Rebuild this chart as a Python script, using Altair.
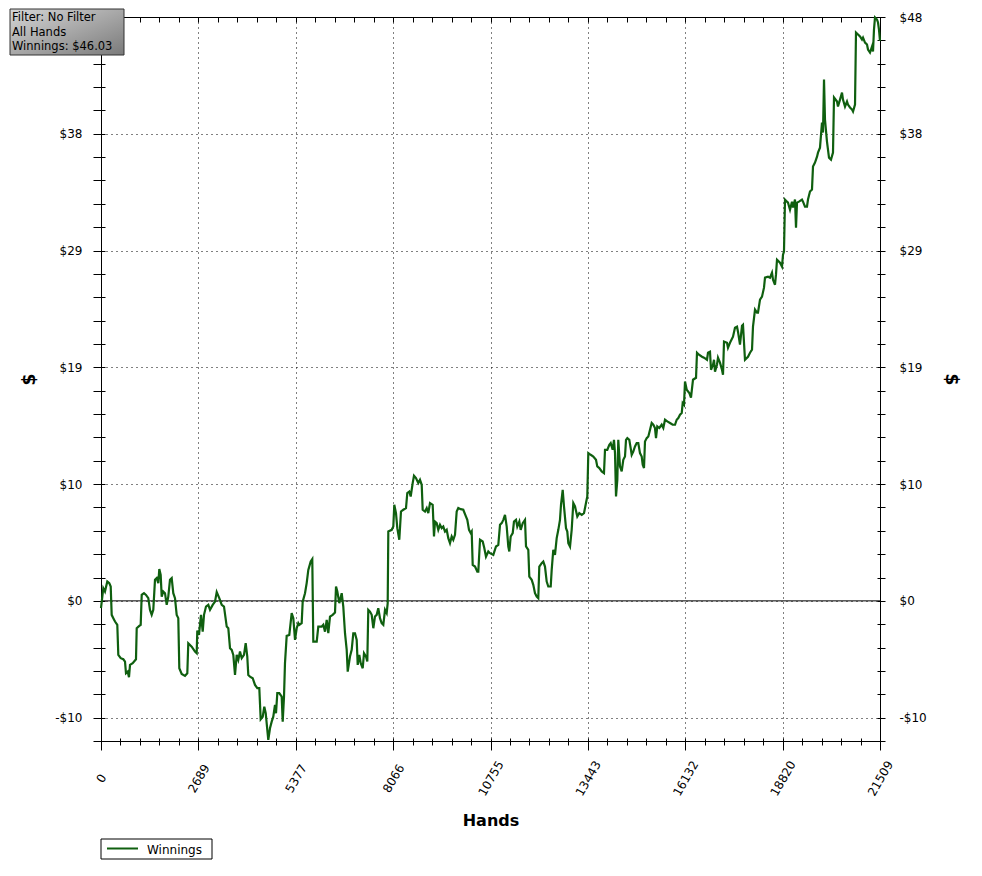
import altair as alt
import pandas as pd

# ---------------- data ----------------
HANDS = [
    0, 64, 110, 174, 229, 268, 295, 340, 387, 450,
    478, 544, 616, 663, 690, 737, 773, 801, 875, 966,
    986, 1057, 1096, 1124, 1187, 1242, 1306, 1353, 1400, 1444,
    1491, 1538, 1582, 1610, 1648, 1676, 1720, 1767, 1814, 1858,
    1905, 1952, 1996, 2043, 2090, 2134, 2162, 2228, 2319, 2383,
    2410, 2504, 2595, 2642, 2659, 2706, 2733, 2761, 2808, 2844,
    2899, 2963, 3010, 3084, 3148, 3195, 3266, 3333, 3396, 3471,
    3515, 3562, 3609, 3653, 3700, 3747, 3791, 3838, 3885, 3948,
    3995, 4039, 4067, 4114, 4189, 4252, 4316, 4371, 4409, 4465,
    4509, 4548, 4592, 4619, 4666, 4713, 4757, 4804, 4832, 4868,
    4923, 4989, 5017, 5053, 5080, 5127, 5199, 5265, 5310, 5357,
    5403, 5448, 5475, 5541, 5569, 5633, 5679, 5724, 5790, 5834,
    5862, 5956, 6000, 6094, 6138, 6185, 6232, 6276, 6323, 6397,
    6461, 6489, 6525, 6580, 6646, 6690, 6737, 6784, 6812, 6875,
    6922, 6966, 7013, 7060, 7088, 7132, 7171, 7226, 7262, 7317,
    7353, 7380, 7427, 7474, 7519, 7565, 7612, 7656, 7703, 7750,
    7795, 7842, 7888, 7916, 7933, 8027, 8071, 8098, 8145, 8181,
    8236, 8283, 8347, 8421, 8457, 8512, 8551, 8606, 8642, 8697,
    8761, 8808, 8855, 8882, 8946, 8993, 9037, 9084, 9158, 9194,
    9222, 9269, 9313, 9360, 9407, 9451, 9498, 9545, 9589, 9636,
    9683, 9727, 9774, 9821, 9865, 9932, 10003, 10078, 10114, 10161,
    10208, 10235, 10263, 10327, 10390, 10418, 10465, 10539, 10583, 10630,
    10694, 10741, 10832, 10906, 10970, 11017, 11064, 11108, 11155, 11202,
    11246, 11274, 11312, 11368, 11403, 11459, 11494, 11550, 11588, 11644,
    11707, 11735, 11798, 11826, 11892, 11936, 11983, 12030, 12074, 12102,
    12168, 12212, 12259, 12306, 12350, 12417, 12444, 12488, 12535, 12582,
    12627, 12673, 12701, 12748, 12784, 12839, 12875, 12903, 12950, 12996,
    13041, 13088, 13151, 13206, 13273, 13336, 13391, 13427, 13455, 13521,
    13593, 13667, 13703, 13759, 13825, 13888, 13916, 13979, 14035, 14073,
    14128, 14164, 14192, 14220, 14256, 14283, 14330, 14377, 14421, 14468,
    14496, 14532, 14587, 14625, 14653, 14697, 14744, 14791, 14835, 14882,
    14929, 14957, 14993, 15020, 15067, 15112, 15159, 15205, 15250, 15296,
    15324, 15360, 15415, 15481, 15526, 15573, 15636, 15711, 15785, 15849,
    15896, 15940, 15987, 16034, 16061, 16097, 16125, 16172, 16244, 16290,
    16346, 16429, 16456, 16511, 16594, 16649, 16732, 16760, 16815, 16843,
    16898, 16926, 16953, 17008, 17036, 17091, 17146, 17174, 17202, 17284,
    17312, 17367, 17450, 17505, 17561, 17588, 17643, 17699, 17726, 17781,
    17864, 17920, 17975, 18002, 18058, 18113, 18140, 18196, 18251, 18306,
    18334, 18417, 18472, 18527, 18555, 18610, 18637, 18665, 18748, 18803,
    18831, 18858, 18886, 18941, 18969, 19024, 19079, 19107, 19162, 19190,
    19217, 19272, 19355, 19383, 19438, 19493, 19521, 19576, 19631, 19659,
    19714, 19770, 19797, 19852, 19907, 19935, 19963, 19990, 20045, 20101,
    20156, 20211, 20239, 20322, 20349, 20405, 20460, 20487, 20543, 20598,
    20625, 20681, 20736, 20764, 20819, 20846, 20902, 20957, 21012, 21040,
    21095, 21150, 21178, 21233, 21288, 21316, 21343, 21371, 21426, 21454,
    21481, 21509,
]

WINNINGS = [
    -0.60, 1.04, 0.77, 1.59, 1.46, 1.18, -1.15, -1.42, -1.70, -1.97,
    -4.44, -4.71, -4.80, -4.99, -5.95, -5.82, -6.28, -5.26, -5.12, -4.80,
    -2.25, -2.06, -1.97, 0.49, 0.63, 0.49, 0.22, -0.74, -1.15, -0.74,
    1.73, 1.87, 1.46, 2.61, 2.14, 0.35, 0.77, 0.63, -0.33, 0.35,
    1.73, 1.87, 0.63, 0.22, -1.15, -1.42, -5.54, -6.01, -6.17, -5.95,
    -3.48, -3.76, -4.17, -4.30, -2.44, -2.80, -1.97, -1.15, -2.53, -1.15,
    -0.47, -0.33, -0.74, -0.33, -0.06, 0.72, 0.22, -0.33, -0.47, -2.11,
    -2.25, -3.89, -4.03, -4.44, -6.09, -4.44, -4.85, -4.17, -4.71, -4.44,
    -3.48, -4.58, -6.09, -6.23, -6.36, -6.91, -7.18, -7.18, -9.73, -9.52,
    -8.70, -9.24, -10.61, -11.43, -10.47, -9.93, -9.52, -8.56, -9.24, -7.59,
    -7.59, -7.87, -9.93, -7.87, -5.12, -2.88, -2.80, -1.01, -1.42, -3.21,
    -2.25, -1.83, -1.97, -1.83, -0.06, 0.63, 1.46, 2.55, 3.23, 3.43,
    -3.35, -3.35, -2.11, -2.11, -1.97, -2.53, -1.56, -2.66, -1.29, -1.15,
    -0.96, 1.18, 0.77, -0.19, 0.63, -0.47, -2.66, -4.03, -5.82, -4.58,
    -4.03, -2.66, -2.66, -3.21, -5.26, -4.44, -5.12, -5.54, -4.30, -4.58,
    -4.99, -0.74, -0.88, -1.15, -2.25, -1.29, -1.15, -0.60, -1.42, -1.83,
    -1.97, -0.74, -1.01, -0.19, 5.70, 5.84, 6.11, 7.90, 7.21, 5.98,
    5.02, 7.35, 7.49, 7.63, 8.86, 8.99, 8.58, 9.68, 10.28, 10.09,
    9.68, 9.95, 9.54, 7.49, 7.35, 7.63, 7.21, 8.04, 7.90, 5.29,
    6.52, 6.39, 5.84, 6.25, 5.98, 6.11, 5.70, 5.84, 5.16, 4.75,
    5.29, 5.02, 5.43, 7.35, 7.63, 7.54, 7.49, 6.93, 6.66, 5.84,
    5.57, 5.70, 2.96, 2.82, 2.41, 2.41, 5.02, 4.88, 4.34, 3.64,
    4.06, 3.92, 3.78, 4.47, 4.61, 6.25, 6.39, 6.66, 7.07, 6.11,
    4.47, 4.06, 5.29, 5.57, 6.52, 6.66, 6.11, 6.52, 5.84, 6.39,
    6.66, 4.47, 4.20, 2.00, 1.73, 1.32, 0.63, 0.35, 0.22, 2.82,
    3.10, 3.23, 2.82, 1.59, 1.18, 1.18, 2.55, 4.20, 3.78, 5.16,
    5.84, 6.66, 7.90, 9.13, 7.76, 5.98, 5.70, 4.75, 4.47, 5.84,
    8.04, 7.76, 6.93, 7.21, 7.07, 7.21, 8.04, 8.58, 12.15, 12.01,
    11.87, 11.60, 11.05, 10.92, 10.64, 10.50, 12.42, 12.42, 12.83, 12.97,
    12.42, 13.24, 12.15, 8.58, 9.95, 13.24, 11.05, 10.64, 11.60, 11.87,
    13.24, 13.38, 13.24, 12.56, 12.01, 12.28, 12.69, 12.97, 12.97, 12.15,
    11.87, 11.19, 10.92, 13.10, 13.38, 13.52, 14.07, 14.62, 14.48, 14.21,
    13.38, 14.34, 14.21, 14.48, 14.21, 14.89, 14.75, 14.62, 14.48, 14.48,
    14.89, 15.03, 15.30, 15.44, 16.26, 16.12, 18.04, 17.36, 17.09, 16.70,
    18.18, 18.34, 20.40, 20.24, 20.07, 19.99, 19.82, 20.40, 20.48, 19.00,
    19.41, 19.82, 18.84, 19.41, 19.99, 19.58, 19.00, 18.59, 21.31, 21.22,
    20.81, 21.22, 21.72, 22.46, 22.54, 22.13, 21.06, 22.62, 22.70, 19.82,
    20.07, 20.40, 20.65, 22.54, 23.94, 23.69, 23.69, 24.76, 25.01, 25.75,
    26.57, 26.65, 26.57, 26.98, 26.41, 25.99, 26.82, 28.05, 27.80, 27.48,
    28.46, 28.71, 32.99, 32.82, 32.74, 32.16, 32.82, 32.33, 32.99, 30.68,
    32.74, 32.82, 32.99, 32.82, 32.41, 32.41, 32.99, 33.65, 33.81, 35.70,
    36.03, 36.52, 36.85, 37.26, 39.32, 38.50, 42.86, 39.57, 37.76, 36.44,
    36.28, 36.85, 41.38, 41.05, 40.64, 41.21, 41.79, 41.21, 40.64, 41.05,
    40.80, 40.56, 40.39, 40.23, 40.80, 46.72, 46.56, 46.40, 46.15, 46.31,
    45.90, 45.74, 45.33, 45.08, 45.57, 45.16, 46.97, 47.96, 47.79, 47.55,
    46.97, 46.03,
]

SERIES_NAME = "Winnings"
INFO_LINES = ["Filter: No Filter", "All Hands", "Winnings: $46.03"]

X_DOMAIN = [0, 21509]
Y_DOMAIN = [-11.52, 48]
X_MAJOR = [0, 2688.625, 5377.25, 8065.875, 10754.5, 13443.125, 16131.75, 18820.375, 21509]
Y_MAJOR = [-9.6, 0, 9.6, 19.2, 28.8, 38.4, 48]
X_MINOR = [round(21509 * k / 40, 3) for k in range(41)]
Y_MINOR = [round(-11.52 + 1.92 * k, 2) for k in range(32)]

assert len(HANDS) == len(WINNINGS)

# ---------------- styling ----------------
FONT = "DejaVu Sans"
GREEN = "#0f5f0f"
W, H = 779, 724
GRID_DASH = [1, 4]

df = pd.DataFrame({
    "idx": list(range(len(HANDS))),
    "hands": HANDS,
    "winnings": WINNINGS,
    "series": [SERIES_NAME] * len(HANDS),
})

x_scale = alt.Scale(domain=X_DOMAIN, nice=False, zero=False)
y_scale = alt.Scale(domain=Y_DOMAIN, nice=False, zero=False)

Y_LABEL_EXPR = "(datum.value < 0 ? '-$' : '$') + format(abs(datum.value), '.0f')"
# left top label is hidden behind the info box in the reference
Y_LABEL_EXPR_LEFT = "datum.value >= 47.9 ? '' : " + Y_LABEL_EXPR
X_LABEL_EXPR = "format(round(datum.value), 'd')"

base = alt.Chart(df)

# main line with bottom labels/grid and left labels/grid
line = base.mark_line(strokeWidth=2.2).encode(
    x=alt.X("hands:Q", scale=x_scale, axis=alt.Axis(
        orient="bottom", values=X_MAJOR, labelExpr=X_LABEL_EXPR,
        labelAngle=-60, labelAlign="center", labelBaseline="middle",
        labelPadding=28, tickSize=9, ticks=True, domain=False,
        grid=True, gridDash=GRID_DASH, gridColor="black", gridOpacity=1,
        labelFlush=False, labelOverlap=False,
        title="Hands", titleFontSize=16, titleFontWeight="bold",
        titleX=W / 2, titleY=84, titleBaseline="alphabetic", titleAlign="center",
    )),
    y=alt.Y("winnings:Q", scale=y_scale, axis=alt.Axis(
        orient="left", values=Y_MAJOR, labelExpr=Y_LABEL_EXPR_LEFT,
        ticks=False, tickSize=0, labelPadding=19, domain=False,
        grid=True, gridDash=GRID_DASH, gridColor="black", gridOpacity=1,
        labelFlush=False, labelOverlap=False,
        title="$", titleFontSize=17, titleFontWeight="bold", titleAngle=-90,
        titleX=-72, titleY=H / 2, titleAlign="center", titleBaseline="middle",
    )),
    color=alt.Color("series:N",
                    scale=alt.Scale(domain=[SERIES_NAME], range=[GREEN]),
                    legend=None),
    order="idx:Q",
)

# minor ticks: bottom and left (crossing the frame)
minor_a = base.mark_point(opacity=0).encode(
    x=alt.X("hands:Q", scale=x_scale, axis=alt.Axis(
        orient="bottom", values=X_MINOR, labels=False, domain=False, grid=False,
        tickSize=7, offset=-3, title=None)),
    y=alt.Y("winnings:Q", scale=y_scale, axis=alt.Axis(
        orient="left", values=Y_MINOR, labels=False, domain=False, grid=False,
        tickSize=12, offset=-4, title=None)),
)

# top ticks (inward) + right labels
right_lab = base.mark_point(opacity=0).encode(
    x=alt.X("hands:Q", scale=x_scale, axis=alt.Axis(
        orient="top", values=X_MINOR, labels=False, domain=False, grid=False,
        tickSize=5, offset=-5, title=None)),
    y=alt.Y("winnings:Q", scale=y_scale, axis=alt.Axis(
        orient="right", values=Y_MAJOR, labelExpr=Y_LABEL_EXPR,
        ticks=False, tickSize=0, labelPadding=19, domain=False, grid=False,
        labelFlush=False, labelOverlap=False,
        title="$", titleFontSize=17, titleFontWeight="bold", titleAngle=90,
        titleX=70, titleY=H / 2, titleAlign="center", titleBaseline="middle",
    )),
)

# right ticks crossing the frame
right_ticks = base.mark_point(opacity=0).encode(
    x=alt.X("hands:Q", scale=x_scale, axis=None),
    y=alt.Y("winnings:Q", scale=y_scale, axis=alt.Axis(
        orient="right", values=Y_MINOR, labels=False, domain=False, grid=False,
        tickSize=8, offset=-3, title=None)),
)

zero_rule = alt.Chart(pd.DataFrame({"zero": [0]})).mark_rule(
    color="black", strokeWidth=1
).encode(y=alt.Y("zero:Q", scale=y_scale, axis=None))

one = pd.DataFrame({"k": [0]})
info_box = alt.Chart(one).mark_rect(
    fill=alt.Gradient(
        gradient="linear",
        stops=[alt.GradientStop(offset=0, color="#d6d6d6"),
               alt.GradientStop(offset=1, color="#7a7a7a")],
        x1=0, y1=0, x2=1, y2=1,
    ),
    stroke="#333333", strokeWidth=1,
).encode(
    x=alt.value(-91), x2=alt.value(23), y=alt.value(-8), y2=alt.value(38)
)

info_text = alt.Chart(one).mark_text(
    align="left", baseline="alphabetic", font=FONT, fontSize=11.5,
    color="black", lineHeight=14.5,
).encode(x=alt.value(-89), y=alt.value(4), text=alt.value(INFO_LINES))

# legend (box, line sample, label) below the plot
legend_df = pd.DataFrame({"series": [SERIES_NAME]})
legend_box = alt.Chart(legend_df).mark_rect(
    fill="white", stroke="black", strokeWidth=1
).encode(x=alt.value(0), x2=alt.value(111), y=alt.value(822), y2=alt.value(842))
legend_line = alt.Chart(legend_df).mark_rule(strokeWidth=2).encode(
    x=alt.value(6), x2=alt.value(37), y=alt.value(831.5),
    color=alt.Color("series:N",
                    scale=alt.Scale(domain=[SERIES_NAME], range=[GREEN]),
                    legend=None),
)
legend_text = alt.Chart(legend_df).mark_text(
    align="left", baseline="alphabetic", font=FONT, fontSize=12, color="black"
).encode(x=alt.value(46), y=alt.value(836.5), text="series:N")

chart = alt.layer(
    zero_rule, line, minor_a, right_lab, right_ticks, info_box, info_text,
    legend_box, legend_line, legend_text,
).resolve_axis(
    x="independent", y="independent"
).properties(
    width=W, height=H,
    autosize=alt.AutoSizeParams(type="none"),
    padding={"left": 93, "top": 9, "right": 94, "bottom": 122},
    background="white",
).configure_view(
    stroke="black", strokeWidth=1
).configure_axis(
    labelFont=FONT, titleFont=FONT, labelFontSize=12, labelColor="black",
    titleColor="black", tickColor="black", tickWidth=1, domainColor="black",
)

chart.save("out.html", embed_options={"renderer": "svg", "actions": False})
